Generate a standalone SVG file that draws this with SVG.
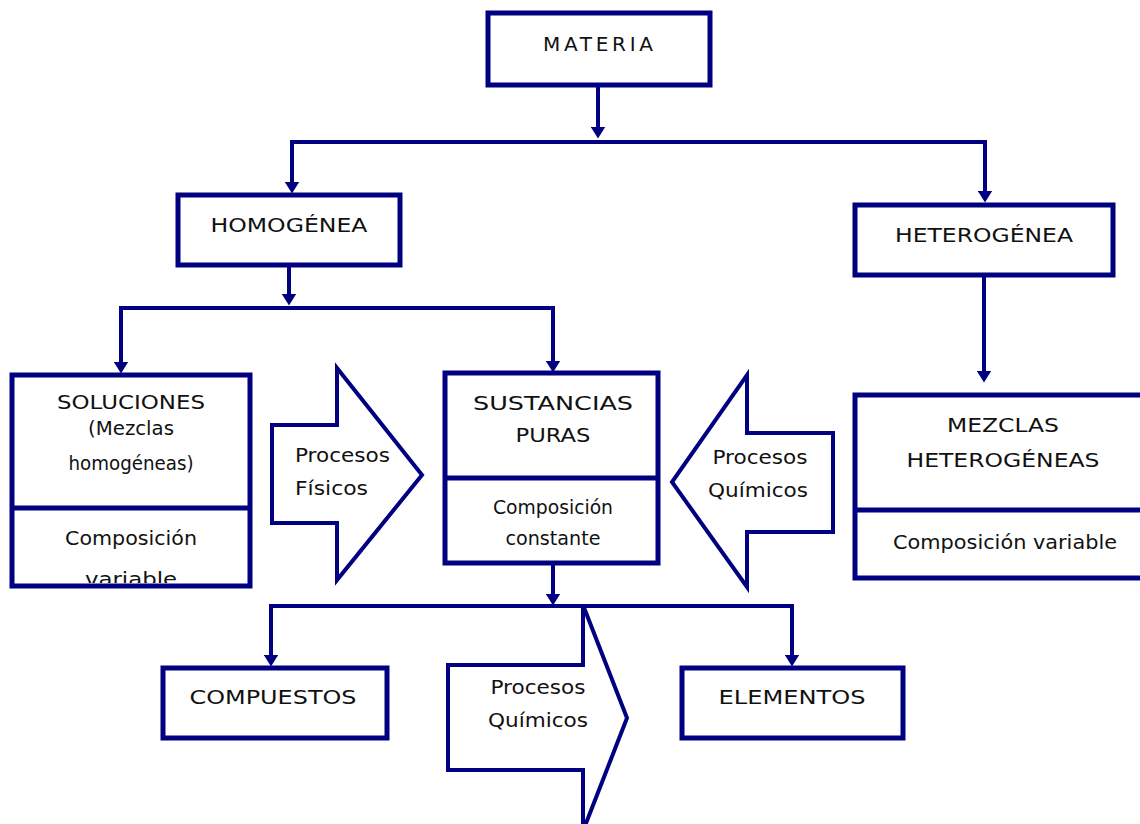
<svg xmlns="http://www.w3.org/2000/svg" width="1140" height="824" viewBox="0 0 1140 824">
<style>
.box{fill:#fff;stroke:#000080;stroke-width:5}
.div{stroke:#000080;stroke-width:5}
.blk{fill:#fff;stroke:#000080;stroke-width:4;stroke-linejoin:miter}
.con{fill:none;stroke:#000080;stroke-width:4;stroke-linejoin:miter}
text{font-family:"DejaVu Sans","Liberation Sans",sans-serif;font-size:20px;fill:#111;dominant-baseline:central;text-anchor:middle}
.l{text-anchor:start}
</style>
<defs>
<marker id="ah" viewBox="0 0 12 15" refX="8.5" refY="7.5" markerWidth="12" markerHeight="15" markerUnits="userSpaceOnUse" orient="auto">
<path d="M0,0 L12,7.5 L0,15 z" fill="#000080"/>
</marker>
<clipPath id="solclip"><rect x="12" y="375" width="238" height="208"/></clipPath>
</defs>
<rect width="1140" height="824" fill="#fff"/>

<g id="connectors">
<path class="con" d="M598 85 V135" marker-end="url(#ah)"/>
<path class="con" d="M598 142 H292 V190" marker-end="url(#ah)"/>
<path class="con" d="M598 142 H985 V199" marker-end="url(#ah)"/>
<path class="con" d="M289 265 V302" marker-end="url(#ah)"/>
<path class="con" d="M289 308 H121 V370" marker-end="url(#ah)"/>
<path class="con" d="M289 308 H553 V369" marker-end="url(#ah)"/>
<path class="con" d="M984 275 V379" marker-end="url(#ah)"/>
<path class="con" d="M553 563 V602" marker-end="url(#ah)"/>
<path class="con" d="M553 606 H271 V663" marker-end="url(#ah)"/>
<path class="con" d="M553 606 H792 V663" marker-end="url(#ah)"/>
</g>

<g id="materia">
<rect class="box" x="488" y="13" width="222" height="72"/>
<text x="598" y="44" textLength="110" lengthAdjust="spacing">MATERIA</text>
</g>

<g id="homogenea">
<rect class="box" x="178" y="195" width="222" height="70"/>
<text x="289" y="225" textLength="157" lengthAdjust="spacingAndGlyphs">HOMOGÉNEA</text>
</g>

<g id="heterogenea">
<rect class="box" x="855" y="205" width="258" height="70"/>
<text x="984" y="235" textLength="178" lengthAdjust="spacingAndGlyphs">HETEROGÉNEA</text>
</g>

<g id="soluciones">
<rect class="box" x="12" y="375" width="238" height="211"/>
<line class="div" x1="12" y1="508" x2="250" y2="508"/>
<text x="131" y="402" textLength="148" lengthAdjust="spacingAndGlyphs">SOLUCIONES</text>
<text x="131" y="428" textLength="86" lengthAdjust="spacingAndGlyphs">(Mezclas</text>
<text x="131" y="463" textLength="125" lengthAdjust="spacingAndGlyphs">homogéneas)</text>
<text x="131" y="538" textLength="132" lengthAdjust="spacingAndGlyphs">Composición</text>
<text x="131" y="579" textLength="92" lengthAdjust="spacingAndGlyphs" clip-path="url(#solclip)">variable</text>
</g>

<g id="procesos-fisicos">
<polygon class="blk" points="272,425 337,425 337,368 422,475 337,580 337,523 272,523"/>
<text class="l" x="295" y="455" textLength="95" lengthAdjust="spacingAndGlyphs">Procesos</text>
<text class="l" x="295" y="488" textLength="73" lengthAdjust="spacingAndGlyphs">Físicos</text>
</g>

<g id="sustancias">
<rect class="box" x="445" y="373" width="213" height="190"/>
<line class="div" x1="445" y1="478" x2="658" y2="478"/>
<text x="553" y="403" textLength="160" lengthAdjust="spacingAndGlyphs">SUSTANCIAS</text>
<text x="553" y="435" textLength="75" lengthAdjust="spacingAndGlyphs">PURAS</text>
<text x="553" y="507" textLength="120" lengthAdjust="spacingAndGlyphs">Composición</text>
<text x="553" y="538" textLength="95" lengthAdjust="spacingAndGlyphs">constante</text>
</g>

<g id="procesos-quimicos-izq">
<polygon class="blk" points="833,433 747,433 747,375 672,482 747,587 747,532 833,532"/>
<text x="760" y="457" textLength="95" lengthAdjust="spacingAndGlyphs">Procesos</text>
<text x="758" y="490" textLength="100" lengthAdjust="spacingAndGlyphs">Químicos</text>
</g>

<g id="mezclas-heterogeneas">
<rect class="box" x="855" y="395" width="300" height="183"/>
<line class="div" x1="855" y1="510" x2="1140" y2="510"/>
<text x="1003" y="425" textLength="112" lengthAdjust="spacingAndGlyphs">MEZCLAS</text>
<text x="1003" y="460" textLength="193" lengthAdjust="spacingAndGlyphs">HETEROGÉNEAS</text>
<text x="1005" y="542" textLength="224" lengthAdjust="spacingAndGlyphs">Composición variable</text>
</g>

<g id="compuestos">
<rect class="box" x="163" y="668" width="224" height="70"/>
<text x="273" y="697" textLength="167" lengthAdjust="spacingAndGlyphs">COMPUESTOS</text>
</g>

<g id="procesos-quimicos-abajo">
<polygon class="blk" points="448,665 583,665 583,605 627,718 583,831 583,770 448,770"/>
<text x="538" y="687" textLength="95" lengthAdjust="spacingAndGlyphs">Procesos</text>
<text x="538" y="720" textLength="100" lengthAdjust="spacingAndGlyphs">Químicos</text>
</g>

<g id="elementos">
<rect class="box" x="682" y="668" width="221" height="70"/>
<text x="792" y="697" textLength="147" lengthAdjust="spacingAndGlyphs">ELEMENTOS</text>
</g>
</svg>
